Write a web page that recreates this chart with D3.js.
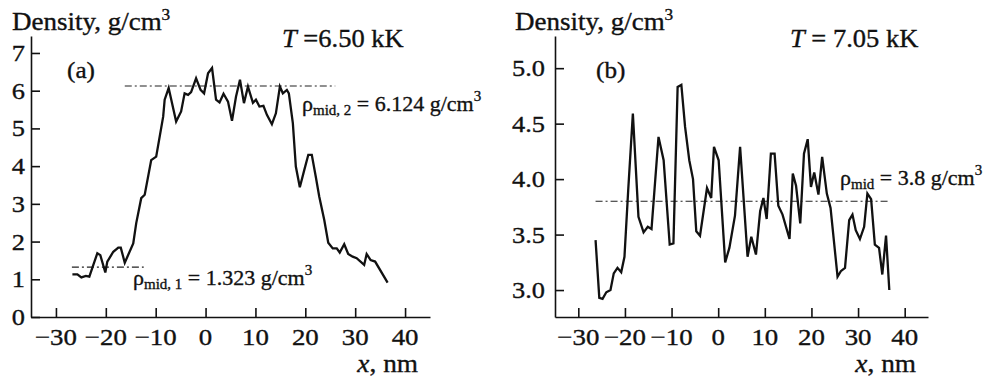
<!DOCTYPE html>
<html>
<head>
<meta charset="utf-8">
<script src="https://cdn.jsdelivr.net/npm/d3@7"></script>
<style>
  body { margin: 0; background: #fff; }
  text { font-family: "Liberation Serif", "Times New Roman", serif; fill: #111; stroke: #111; stroke-width: 0.35px; }
</style>
</head>
<body>
<div id="chart"></div>
<script>
// panel (a), T = 6.50 kK
var xA = [-26.7,-25.7,-24.9,-24,-23.3,-22.5,-21.7,-21.1,-20.1,-19.7,-18.5,-17.5,-17,-16.2,-14.5,-13.9,-12.9,-12.2,-10.9,-9.9,
  -8.5,-8.2,-7.4,-5.9,-4.9,-4.2,-3.5,-2.9,-1.9,-1,-0.3,0.5,1.3,2.1,2.8,3.6,4.5,5.3,6.1,6.9,
  7.7,8.5,9.5,10.1,10.8,11.6,12.3,13.3,14.1,14.9,15.5,16.3,16.7,17.5,18.1,18.9,19.8,20.6,21.3,22.1,
  22.8,23.8,24.6,25.5,26.3,26.9,27.8,28.6,29.5,30.3,31.8,32.3,33.1,34,36.5];
var densA = [1.13,1.13,1.05,1.09,1.07,1.38,1.69,1.64,1.18,1.47,1.73,1.84,1.84,1.44,1.95,2.49,3.15,3.24,4.16,4.25,
  5.31,5.76,6.07,5.18,5.45,5.93,5.89,5.96,6.33,6.02,5.93,6.46,6.6,5.76,5.69,5.92,5.71,5.2,5.84,6.29,
  5.67,6.11,5.68,5.76,5.58,5.6,5.36,5.11,5.4,6.11,5.93,6.02,5.93,5.14,3.99,3.44,3.9,4.3,4.3,3.72,
  3.19,2.57,1.97,1.82,1.82,1.71,1.93,1.67,1.6,1.56,1.38,1.67,1.51,1.47,0.91];

// panel (b), T = 7.05 kK
var xB = [-26.3,-25.5,-24.8,-24,-23.1,-22.4,-21.6,-20.8,-20.1,-19.3,-18.3,-17.1,-16,-15.1,-14.3,-12.8,-11.7,-10.4,-9.6,-8.7,
  -7.9,-7.1,-6.2,-5.4,-4.7,-3.9,-2.4,-1.5,-0.9,0.1,1.5,2.4,3.6,4.7,6.3,7.1,8.1,9,9.7,10.4,
  11.3,12.1,12.9,13.8,15.3,16,16.7,17.6,18.4,19.2,19.9,20.6,21.5,22.3,23.3,24.1,25.6,26.3,27.2,28.1,
  28.8,29.5,30.4,31.3,32,32.8,33.6,34.5,35.2,36,36.7];
var densB = [3.45,2.93,2.92,2.98,3.0,3.15,3.2,3.16,3.3,3.9,4.59,3.66,3.52,3.57,3.55,4.38,4.17,3.41,3.42,4.83,
  4.85,4.47,4.17,4.0,3.53,3.49,3.92,3.83,4.29,4.17,3.25,3.38,3.67,4.29,3.3,3.48,3.32,3.71,3.83,3.64,
  4.23,4.23,3.76,3.68,3.46,4.05,3.94,3.6,4.23,4.36,3.93,4.06,3.86,4.2,3.87,3.74,3.12,3.17,3.2,3.63,
  3.68,3.54,3.46,3.57,3.87,3.82,3.41,3.38,3.14,3.49,3.0];

var xTicks = [-30, -20, -10, 0, 10, 20, 30, 40];
var yTicksA = [0, 1, 2, 3, 4, 5, 6, 7];
var yTicksB = [3.0, 3.5, 4.0, 4.5, 5.0];

// mean density levels: [value, x from, x to]
var midA1 = [1.323, -26.8, -12.4];
var midA2 = [6.124, -16.2, 26];
var midB = [3.8, -26.3, 36.8];

var svg = d3.select("#chart")
  .append("svg")
  .attr("width", 986)
  .attr("height", 382);

// text slightly wider than plain Times, like the scanned figure
function label(px, py, size, sx) {
  return svg.append("text")
    .attr("transform", "translate(" + px + "," + py + ") scale(" + (sx || 1) + ",1)")
    .style("font-size", size + "px");
}

function sup(t, s, size) {
  t.append("tspan").style("font-size", size + "px").attr("dy", -10).text(s);
}

function drawPanel(p) {
  var x = d3.scaleLinear().domain([-35, 45]).range([p.left, p.right]);
  var y = d3.scaleLinear().domain(p.yDomain).range([317, 36]);

  // axes, ticks pointing inward; labels drawn below
  svg.append("g")
    .attr("transform", "translate(0,317)")
    .call(d3.axisBottom(x).tickValues(xTicks).tickSizeInner(-9).tickSizeOuter(0).tickFormat(""));
  svg.append("g")
    .attr("transform", "translate(" + p.left + ",0)")
    .call(d3.axisLeft(y).tickValues(p.yTicks).tickSizeInner(-9).tickSizeOuter(0).tickFormat(""));
  svg.selectAll(".domain, .tick line").attr("stroke", "#111").attr("stroke-width", 1.6);

  var fx = d3.format("d"), fy = d3.format(p.fmt);
  xTicks.forEach(function (v) {
    label(x(v), 345, 24, 1.12).attr("text-anchor", "middle").text(fx(v));
  });
  p.yTicks.forEach(function (v) {
    label(p.left - p.labelGap, y(v) + 8, 24, 1.1).attr("text-anchor", "end").text(fy(v));
  });

  // mean levels, dash-dot
  p.mids.forEach(function (m) {
    svg.append("line")
      .attr("x1", x(m[1])).attr("x2", x(m[2]))
      .attr("y1", y(m[0])).attr("y2", y(m[0]))
      .attr("stroke", "#222").attr("stroke-width", 1.1)
      .attr("stroke-dasharray", "7,3,2,3");
  });

  // density profile
  var line = d3.line()
    .x(function (d) { return x(d[0]); })
    .y(function (d) { return y(d[1]); });
  svg.append("path")
    .datum(d3.zip(p.xs, p.ys))
    .attr("d", line)
    .attr("fill", "none")
    .attr("stroke", "#111")
    .attr("stroke-width", 2.3)
    .attr("stroke-linejoin", "miter");

  // y title
  var t = label(p.titleX, 30, 25, 1.08).text("Density, g/cm");
  sup(t, "3", 16);

  // panel letter
  label(p.left + p.letterDx, 78, 24, 1.05).text(p.letter);

  // temperature
  var tt = label(p.tempX, 47, 25, 1.06);
  tt.append("tspan").attr("font-style", "italic").text("T");
  tt.append("tspan").text(p.temp);

  // x title
  var xt = label(p.right - 12, 372, 26, 1.05).attr("text-anchor", "end");
  xt.append("tspan").attr("font-style", "italic").text("x");
  xt.append("tspan").text(", nm");
}

function rhoLabel(px, py, sub, rest) {
  var t = label(px, py, 22);
  t.append("tspan").text("ρ");
  t.append("tspan").style("font-size", "15px").attr("dy", 4).text(sub);
  t.append("tspan").attr("dy", -4).text(rest);
  sup(t, "3", 15);
}

drawPanel({
  left: 31, right: 430, yDomain: [0, 7.45], yTicks: yTicksA, fmt: "d", labelGap: 6,
  xs: xA, ys: densA, mids: [midA1, midA2], titleX: 12,
  letter: "(a)", letterDx: 36, tempX: 282, temp: " =6.50 kK"
});
drawPanel({
  left: 555, right: 928, yDomain: [2.757, 5.29], yTicks: yTicksB, fmt: ".1f", labelGap: 10,
  xs: xB, ys: densB, mids: [midB], titleX: 515,
  letter: "(b)", letterDx: 41, tempX: 790, temp: " = 7.05 kK"
});

rhoLabel(302, 111, "mid, 2", " = 6.124 g/cm");
rhoLabel(133, 285, "mid, 1", " = 1.323 g/cm");
rhoLabel(840, 185, "mid", " = 3.8 g/cm");
</script>
</body>
</html>
